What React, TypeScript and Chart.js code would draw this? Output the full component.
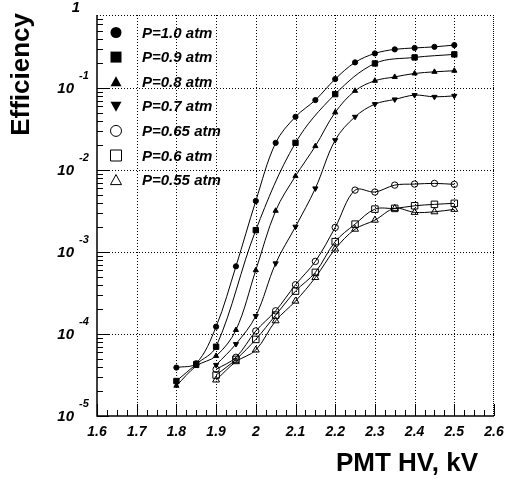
import React, { useEffect, useRef } from 'react';
import { Chart, registerables } from 'chart.js';

Chart.register(...registerables);

// ---- data (PMT HV in kV, efficiency) ----
const hvFull = [1.8, 1.85, 1.9, 1.95, 2.0, 2.05, 2.1, 2.15, 2.2, 2.25, 2.3, 2.35, 2.4, 2.45, 2.5];
const hvP09 = [1.8, 1.85, 1.9, 2.0, 2.1, 2.2, 2.3, 2.4, 2.5];
const hvFrom19 = [1.9, 1.95, 2.0, 2.05, 2.1, 2.15, 2.2, 2.25, 2.3, 2.35, 2.4, 2.45, 2.5];

const effP100 = [3.9e-5, 4.4e-5, 1.23e-4, 6.7e-4, 4.2e-3, 0.0215, 0.0447, 0.0715, 0.129, 0.206, 0.265, 0.297, 0.309, 0.319, 0.335];
const effP090 = [2.67e-5, 4.3e-5, 7.0e-5, 1.85e-3, 0.0215, 0.0845, 0.2, 0.237, 0.258];
const effP080 = [2.34e-5, 4.07e-5, 5.4e-5, 1.12e-4, 6.0e-4, 3.19e-3, 8.45e-3, 0.0196, 0.0506, 0.0927, 0.123, 0.137, 0.151, 0.158, 0.163];
const effP070 = [4.2e-5, 7.55e-5, 1.66e-4, 7.28e-4, 2.04e-3, 5.98e-3, 0.0232, 0.0447, 0.0638, 0.0728, 0.0822, 0.0783, 0.0805];
const effP065 = [3.71e-5, 5.2e-5, 1.09e-4, 1.92e-4, 3.99e-4, 7.7e-4, 2.0e-3, 5.7e-3, 5.4e-3, 6.56e-3, 6.75e-3, 6.88e-3, 6.7e-3];
const effP060 = [3.16e-5, 4.9e-5, 8.6e-5, 1.7e-4, 3.34e-4, 5.65e-4, 1.34e-3, 2.19e-3, 3.34e-3, 3.41e-3, 3.67e-3, 3.82e-3, 3.93e-3];
const effP055 = [2.75e-5, 4.6e-5, 6.38e-5, 1.45e-4, 2.52e-4, 4.89e-4, 1.09e-3, 1.9e-3, 2.45e-3, 3.41e-3, 3.05e-3, 3.1e-3, 3.32e-3];

const seriesLabels = ['P=1.0 atm', 'P=0.9 atm', 'P=0.8 atm', 'P=0.7 atm', 'P=0.65 atm', 'P=0.6 atm', 'P=0.55 atm'];

// ---- axes ----
const xMin = 1.6;
const xMax = 2.6;
const yMin = 1e-5;
const yMax = 0.78;
const xTickValues = [1.6, 1.7, 1.8, 1.9, 2.0, 2.1, 2.2, 2.3, 2.4, 2.5, 2.6];
const xTickLabels = ['1.6', '1.7', '1.8', '1.9', '2', '2.1', '2.2', '2.3', '2.4', '2.5', '2.6'];
const yDecades = [1e-5, 1e-4, 1e-3, 1e-2, 1e-1];
const yDecadeExponents = ['-5', '-4', '-3', '-2', '-1'];

const FONT = '"Liberation Sans", Arial, Helvetica, sans-serif';

type MarkerKind = 'circle' | 'square' | 'triUp' | 'triDown';
const markerKinds: MarkerKind[] = ['circle', 'square', 'triUp', 'triDown', 'circle', 'square', 'triUp'];
const markerFilled = [true, true, true, true, false, false, false];

function drawMarker(ctx: CanvasRenderingContext2D, kind: MarkerKind, filled: boolean, cx: number, cy: number, s: number) {
  ctx.beginPath();
  if (kind === 'circle') {
    ctx.arc(cx, cy, s / 2, 0, Math.PI * 2);
  } else if (kind === 'square') {
    ctx.rect(cx - s / 2, cy - s / 2, s, s);
  } else if (kind === 'triUp') {
    ctx.moveTo(cx, cy - s / 2);
    ctx.lineTo(cx + s / 2, cy + s / 2 - 1);
    ctx.lineTo(cx - s / 2, cy + s / 2 - 1);
    ctx.closePath();
  } else {
    ctx.moveTo(cx, cy + s / 2);
    ctx.lineTo(cx + s / 2, cy - s / 2 + 1);
    ctx.lineTo(cx - s / 2, cy - s / 2 + 1);
    ctx.closePath();
  }
  if (filled) {
    ctx.fillStyle = '#000';
    ctx.fill();
  } else {
    ctx.fillStyle = '#fff';
    ctx.fill();
    ctx.lineWidth = 1;
    ctx.strokeStyle = '#000';
    ctx.stroke();
  }
}

const rootPlugin = {
  id: 'rootStyle',
  beforeDatasetsDraw(chart: any) {
    const { ctx, chartArea: a, scales } = chart;
    const x = scales.x;
    const y = scales.y;
    ctx.save();
    ctx.strokeStyle = '#000';
    ctx.lineWidth = 1;
    ctx.setLineDash([1, 2]);
    for (const v of xTickValues) {
      if (v <= xMin || v >= xMax) continue;
      const px = Math.round(x.getPixelForValue(v)) + 0.5;
      ctx.beginPath();
      ctx.moveTo(px, a.top);
      ctx.lineTo(px, a.bottom);
      ctx.stroke();
    }
    for (const v of yDecades) {
      if (v <= yMin) continue;
      const py = Math.round(y.getPixelForValue(v)) + 0.5;
      ctx.beginPath();
      ctx.moveTo(a.left, py);
      ctx.lineTo(a.right, py);
      ctx.stroke();
    }
    // top and right frame
    ctx.beginPath();
    ctx.moveTo(a.left, a.top + 0.5);
    ctx.lineTo(a.right, a.top + 0.5);
    ctx.stroke();
    ctx.setLineDash([1, 1]);
    ctx.beginPath();
    ctx.moveTo(a.right - 0.5, a.top);
    ctx.lineTo(a.right - 0.5, a.bottom);
    ctx.stroke();
    ctx.restore();
  },
  afterDatasetsDraw(chart: any) {
    const { ctx, chartArea: a, scales } = chart;
    const x = scales.x;
    const y = scales.y;
    ctx.save();
    ctx.strokeStyle = '#000';
    ctx.fillStyle = '#000';
    ctx.setLineDash([]);

    // axis lines
    ctx.lineWidth = 1.5;
    ctx.beginPath();
    ctx.moveTo(a.left, a.top);
    ctx.lineTo(a.left, a.bottom);
    ctx.lineTo(a.right, a.bottom);
    ctx.stroke();

    ctx.lineWidth = 1;
    // x ticks
    for (let i = 0; i < xTickValues.length; i++) {
      const v = xTickValues[i];
      const px = Math.round(x.getPixelForValue(v)) + 0.5;
      ctx.beginPath();
      ctx.moveTo(px, a.bottom);
      ctx.lineTo(px, a.bottom - 12);
      ctx.stroke();
      if (i < xTickValues.length - 1) {
        const step = (xTickValues[i + 1] - v) / 4;
        for (let k = 1; k < 4; k++) {
          const mx = Math.round(x.getPixelForValue(v + k * step)) + 0.5;
          ctx.beginPath();
          ctx.moveTo(mx, a.bottom);
          ctx.lineTo(mx, a.bottom - 6);
          ctx.stroke();
        }
      }
    }
    // y ticks
    for (const d of yDecades) {
      const py = Math.round(y.getPixelForValue(d)) + 0.5;
      ctx.beginPath();
      ctx.moveTo(a.left, py);
      ctx.lineTo(a.left + 12, py);
      ctx.stroke();
      for (let m = 2; m <= 9; m++) {
        const v = m * d;
        if (v > yMax) break;
        const my = Math.round(y.getPixelForValue(v)) + 0.5;
        ctx.beginPath();
        ctx.moveTo(a.left, my);
        ctx.lineTo(a.left + 6, my);
        ctx.stroke();
      }
    }

    // x tick labels
    ctx.font = `italic bold 14px ${FONT}`;
    ctx.textAlign = 'center';
    ctx.textBaseline = 'middle';
    for (let i = 0; i < xTickValues.length; i++) {
      ctx.fillText(xTickLabels[i], x.getPixelForValue(xTickValues[i]), a.bottom + 16);
    }

    // y tick labels 10^k
    for (let i = 0; i < yDecades.length; i++) {
      const py = y.getPixelForValue(yDecades[i]);
      ctx.font = `italic bold 15px ${FONT}`;
      ctx.textAlign = 'right';
      ctx.textBaseline = 'middle';
      ctx.fillText('10', a.left - 23, py + 1);
      ctx.font = `italic bold 11px ${FONT}`;
      ctx.textAlign = 'left';
      ctx.fillText(yDecadeExponents[i], a.left - 18, py - 12);
    }
    ctx.font = `italic bold 15px ${FONT}`;
    ctx.textAlign = 'right';
    ctx.textBaseline = 'middle';
    ctx.fillText('1', a.left - 17, y.getPixelForValue(1) + 2);

    // axis titles
    ctx.font = `bold 26px ${FONT}`;
    ctx.textAlign = 'right';
    ctx.textBaseline = 'alphabetic';
    ctx.fillText('PMT HV, kV', 478, 471);
    ctx.save();
    ctx.translate(29, 13);
    ctx.rotate(-Math.PI / 2);
    ctx.textAlign = 'right';
    ctx.textBaseline = 'alphabetic';
    ctx.fillText('Efficiency', 0, 0);
    ctx.restore();

    // legend
    const lx = 116;
    const ly0 = 32.5;
    const dy = 24.6;
    for (let i = 0; i < seriesLabels.length; i++) {
      const cy = ly0 + i * dy;
      drawMarker(ctx, markerKinds[i], markerFilled[i], lx, cy, 11);
      ctx.fillStyle = '#000';
      ctx.font = `italic bold 15px ${FONT}`;
      ctx.textAlign = 'left';
      ctx.textBaseline = 'middle';
      ctx.fillText(seriesLabels[i], 142, cy + 1);
    }
    ctx.restore();
  },
};

function pts(xs: number[], ys: number[]) {
  return xs.map((v, i) => ({ x: v, y: ys[i] }));
}

export default function App() {
  const ref = useRef<HTMLCanvasElement>(null);
  useEffect(() => {
    document.body.style.margin = '0';
    const hollow = 'rgba(255,255,255,0)';
    const common = {
      borderColor: '#000',
      borderWidth: 1,
      tension: 0.35,
      fill: false,
      pointBorderColor: '#000',
      pointBorderWidth: 1,
    };
    const chart = new Chart(ref.current as HTMLCanvasElement, {
      type: 'line',
      data: {
        datasets: [
          { ...common, label: seriesLabels[0], data: pts(hvFull, effP100), pointStyle: 'circle', pointRadius: 2.6, pointBackgroundColor: '#000' },
          { ...common, label: seriesLabels[1], data: pts(hvP09, effP090), pointStyle: 'rect', pointRadius: 3.8, pointBackgroundColor: '#000' },
          { ...common, label: seriesLabels[2], data: pts(hvFull, effP080), pointStyle: 'triangle', pointRadius: 3, pointBackgroundColor: '#000' },
          { ...common, label: seriesLabels[3], data: pts(hvFrom19, effP070), pointStyle: 'triangle', rotation: 180, pointRotation: 180, pointRadius: 3, pointBackgroundColor: '#000' },
          { ...common, label: seriesLabels[4], data: pts(hvFrom19, effP065), pointStyle: 'circle', pointRadius: 3.2, pointBackgroundColor: hollow },
          { ...common, label: seriesLabels[5], data: pts(hvFrom19, effP060), pointStyle: 'rect', pointRadius: 4.6, pointBackgroundColor: hollow },
          { ...common, label: seriesLabels[6], data: pts(hvFrom19, effP055), pointStyle: 'triangle', pointRadius: 4, pointBackgroundColor: hollow },
        ] as any,
      },
      options: {
        responsive: false,
        animation: false,
        devicePixelRatio: 1,
        layout: { padding: { left: 97, top: 15, right: 13, bottom: 68 } },
        plugins: { legend: { display: false }, tooltip: { enabled: false } },
        scales: {
          x: { type: 'linear', min: xMin, max: xMax, display: false },
          y: { type: 'logarithmic', min: yMin, max: yMax, display: false },
        },
      },
      plugins: [rootPlugin],
    });
    return () => chart.destroy();
  }, []);
  return <canvas ref={ref} width={507} height={484} style={{ display: 'block' }} />;
}
